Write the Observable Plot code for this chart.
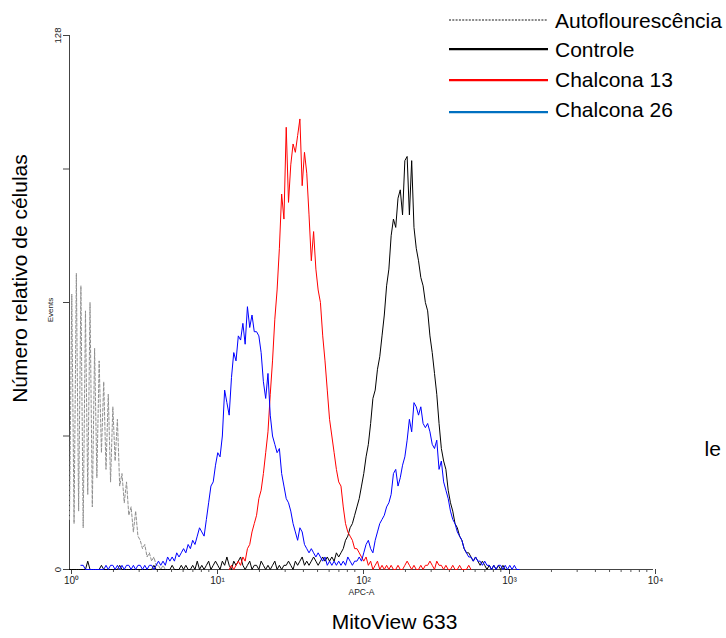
<!DOCTYPE html>
<html>
<head>
<meta charset="utf-8">
<script src="https://cdn.jsdelivr.net/npm/d3@7"></script>
<script src="https://cdn.jsdelivr.net/npm/@observablehq/plot@0.6"></script>
<style>
  body { margin: 0; background: #fff; }
  #wrap { position: relative; width: 726px; height: 638px; font-family: "Liberation Sans", Arial, sans-serif; }
  #legend { position: absolute; left: 0; top: 0; pointer-events: none; }
</style>
</head>
<body>
<div id="wrap"></div>
<script>
// ---- Data: histogram counts per channel (256 channels over 4 decades, 64 channels per decade) ----
const channelsPerDecade = 64;

const autoStart = 0;
const autoCounts = [12, 66, 11, 71, 14, 68, 10, 62, 18, 64, 15, 53, 22, 50, 28, 45, 24, 42, 21, 39,
  26, 36, 20, 23, 16, 21, 13, 15, 9, 14, 8, 7, 5, 6, 3, 4, 2, 3, 1, 1, 0, 1, 0];

const controlStart = 0;
const controlCounts = [
  0,0,0,0,0,0,0,0,2,0, 0,0,0,0,1,0,0,0,0,0, 0,0,1,0,0,0,0,0,0,0,
  0,0,0,0,0,0,0,1,0,0, 0,0,0,0,0,1,0,0,0,1,
  0,1,0,0,1,0,2,0,1,0, 1,2,0,1,2,1,0,2,1,3, 1,0,2,1,2,3,1,0,1,2,
  0,1,1,0,2,1,0,1,0,1, 2,0,1,0,1,1,2,1,0,2, 1,2,3,1,2,1,2,3,2,1, 2,3,2,3,
  2,3,2,4,3,4,5,7,8,10, 11,13,15,17,20,23,27,30,35,41, 43,48,51,56,61,68,72,80,84,82,
  89,91,85,98,99,85,98,82,77,74, 70,68,64,62,56,52,47,42,35,29, 26,24,19,16,14,11,10,8,7,5,
  4,4,3,2,3,2,1,2,1,0, 1,0,1,0,1,0,1,0,0,0];

const chalcona13Start = 70;
const chalcona13Counts = [
  0,1,0,1,2,1,3,2,5,6, 9,11,13,17,19,23,28,33,42,50, 60,67,77,90,84,106,88,97,102,100,
  104,108,92,100,95,85,74,81,72,67, 64,56,50,43,36,32,28,24,21,20, 15,11,9,8,7,5,5,4,3,2,
  3,1,2,
  0,1,2,0,1,0,1,0,1,0, 0,1,0,0,1,2,1,0,1,0, 0,1,0,1,1,2,1,0,2,1, 1,0,1,0,0,1,0,0,1,0, 0,0,1,0];

const chalcona26Start = 5;
const chalcona26Counts = [
  1,1,0,0,0,0,0,0,0,0, 0,1,0,1,1,0,1,0,1,0, 1,1,0,1,0,1,1,0,1,0, 1,
  1,0,1,2,1,2,1,3,2,3, 2,4,3,4,5,4,6,5,7,6, 8,10,9,8,12,16,20,21,25,28,
  27,32,43,40,37,46,52,50,56,55, 59,54,63,58,61,57,57,56,52,45, 41,47,37,32,30,28,29,23,20,17,
  16,14,11,9,7,10,9,6,5,4, 5,4,3,4,3,2,3,1,2,1, 2,1,2,1,2,1,3,2,1,2,
  2,3,2,4,6,7,5,4,7,9, 11,12,13,15,16,18,23,24,20,22, 25,27,31,36,33,40,39,37,39,35,
  34,35,33,30,29,31,24,26,21,19, 17,14,12,11,9,8,7,5,4,3, 3,2,3,2,2,1,2,1,1,0,
  1,0,1,1,0,1,0,1,0,1,0,0];

const seriesNames = ["Autoflourescência", "Controle", "Chalcona 13", "Chalcona 26"];
const seriesColors = ["#8f8f8f", "#000000", "#ff0000", "#0000ff"];
const legendColors = ["#8a8a8a", "#000000", "#ff0000", "#0070c0"];

const xMajorTicks = [1, 10, 100, 1000, 10000];
const xTickLabels = ["10⁰", "10¹", "10²", "10³", "10⁴"];
const xMinorMultipliers = [2, 3, 4, 5, 6, 7, 8, 9];
const yTicks = [0, 32, 64, 96, 128];
const yTickLabels = ["0", "", "", "", "128"];

const xAxisTitle = "APC-A";
const xTitle = "MitoView 633";
const yAxisTitle = "Events";
const yTitle = "Número relativo de células";
const strayText = "le";

// ---- build rows ----
function toRows(start, counts, name) {
  return counts.map((c, i) => ({x: 10 ** ((start + i) / channelsPerDecade), y: c, series: name}));
}
const autoRows = toRows(autoStart, autoCounts, seriesNames[0]);
const controlRows = toRows(controlStart, controlCounts, seriesNames[1]);
const c13Rows = toRows(chalcona13Start, chalcona13Counts, seriesNames[2]);
const c26Rows = toRows(chalcona26Start, chalcona26Counts, seriesNames[3]);
const xMinorTicks = xMajorTicks.slice(0, -1).flatMap(d => xMinorMultipliers.map(m => d * m));

const font = '"Liberation Sans", Arial, sans-serif';

const chart = Plot.plot({
  width: 726,
  height: 638,
  marginLeft: 69,
  marginRight: 73,
  marginTop: 35,
  marginBottom: 69,
  style: {fontFamily: font, background: "#fff", color: "#222", overflow: "visible"},
  x: {type: "log", domain: [1, 10000]},
  y: {domain: [0, 128]},
  marks: [
    Plot.axisX({ticks: xMinorTicks, tickSize: 3, tickFormat: () => "", label: null, stroke: "#555"}),
    Plot.axisX({ticks: xMajorTicks, tickSize: 5, tickPadding: 2, fontSize: 10, stroke: "#444",
      tickFormat: d => xTickLabels[xMajorTicks.indexOf(d)], label: null, dx: 2}),
    Plot.axisY({ticks: yTicks, tickSize: 6, tickFormat: () => "", label: null, stroke: "#444"}),
    Plot.text(yTicks, {y: d => d, text: (d, i) => yTickLabels[i], frameAnchor: "left", textAnchor: "middle",
      dx: -12, rotate: -90, fontSize: 9.5, fill: "#222"}),
    Plot.ruleX([1], {stroke: "#444"}),
    Plot.ruleY([0], {stroke: "#444"}),
    Plot.line(autoRows, {x: "x", y: "y", stroke: seriesColors[0], strokeWidth: 1, strokeDasharray: "3,2"}),
    Plot.line(controlRows, {x: "x", y: "y", stroke: seriesColors[1], strokeWidth: 1}),
    Plot.line(c13Rows, {x: "x", y: "y", stroke: seriesColors[2], strokeWidth: 1}),
    Plot.line(c26Rows, {x: "x", y: "y", stroke: seriesColors[3], strokeWidth: 1}),
    Plot.text([xAxisTitle], {frameAnchor: "bottom", dy: 25, fontSize: 8.5, fill: "#222"}),
    Plot.text([xTitle], {frameAnchor: "bottom", dy: 59, dx: 33, fontSize: 21, fill: "#000"}),
    Plot.text([yAxisTitle], {frameAnchor: "left", textAnchor: "middle", dx: -19.5, dy: 7.5, rotate: -90, fontSize: 8, fill: "#222"}),
    Plot.text([yTitle], {frameAnchor: "left", textAnchor: "middle", dx: -49.5, dy: -24, rotate: -90, fontSize: 21, fill: "#000"}),
    Plot.text([strayText], {frameAnchor: "right", dx: 51, dy: 147, textAnchor: "start", fontSize: 21, fill: "#000"})
  ]
});

const wrap = document.getElementById("wrap");
wrap.appendChild(chart);

// ---- legend (top right) ----
const ns = "http://www.w3.org/2000/svg";
const leg = document.createElementNS(ns, "svg");
leg.setAttribute("id", "legend");
leg.setAttribute("width", 726);
leg.setAttribute("height", 130);
const lineYs = [20, 49, 80, 112];
const textYs = [28, 57, 87, 117];
seriesNames.forEach((name, i) => {
  const ln = document.createElementNS(ns, "line");
  ln.setAttribute("x1", 449); ln.setAttribute("x2", 548);
  ln.setAttribute("y1", lineYs[i]); ln.setAttribute("y2", lineYs[i]);
  ln.setAttribute("stroke", legendColors[i]);
  ln.setAttribute("stroke-width", i === 0 ? 2 : 2.25);
  if (i === 0) ln.setAttribute("stroke-dasharray", "2,1.3");
  leg.appendChild(ln);
  const tx = document.createElementNS(ns, "text");
  tx.setAttribute("x", 555); tx.setAttribute("y", textYs[i]);
  tx.setAttribute("font-family", font);
  tx.setAttribute("font-size", 21);
  tx.setAttribute("fill", "#000");
  tx.textContent = name;
  leg.appendChild(tx);
});
wrap.appendChild(leg);
</script>
</body>
</html>
